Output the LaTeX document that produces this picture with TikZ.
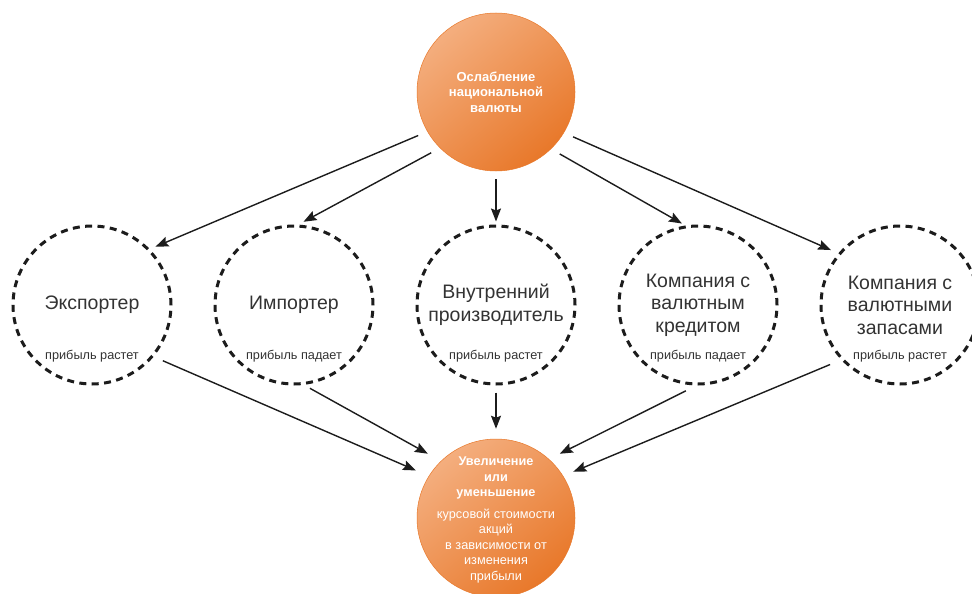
\documentclass[tikz,border=0pt]{standalone}
\usepackage{fontspec}
\setmainfont{Liberation Sans}
\usepackage{tikz}
\usetikzlibrary{arrows.meta,shapes}
\definecolor{orlight}{HTML}{F4AE7E}
\definecolor{ordark}{HTML}{E8782A}
\definecolor{inkgray}{HTML}{333333}
\definecolor{linegray}{HTML}{1C1C1C}
\tikzset{%
	hub/.style    = {circle, minimum size = 158pt, inner sep = 0pt, align = center,
		top color = orlight, bottom color = ordark, shading angle = 40,
		draw = ordark, line width = 0.5pt, text = white,
		font = \fontsize{13}{15.5}\selectfont\bfseries}, % orange circles
	hubtext/.style = {align = center, text = white,
		font = \fontsize{12.7}{15.5}\selectfont}, % text of the lower circle
	firm/.style   = {circle, minimum size = 158pt, inner sep = 0pt, align = center,
		draw = linegray, line width = 3pt, dash pattern = on 7pt off 5.4pt,
		text = inkgray, font = \fontsize{19.5}{22.5}\selectfont}, % dashed circles
	note/.style   = {text = inkgray, font = \fontsize{12.7}{14}\selectfont}, % profit
	conn/.style   = {draw = linegray, line width = 1.4pt,
		-{Stealth[length = 13pt, width = 10pt, inset = 2pt]}} % arrows
}

\begin{document}
\begin{tikzpicture}[x=1pt,y=-1pt]
                \clip (0,0) rectangle (972,594);
                \fill[white] (0,0) rectangle (972,594);

                \node[hub] (oslab) at (496,92) {Ослабление\\национальной\\валюты};

                \node[firm] (exp)   at (92,305)  {Экспортер};
                \node[firm] (imp)   at (294,305) {Импортер};
                \node[firm] (vnutr) at (496,305) {Внутренний\\производитель};
                \node[firm] (kred)  at (698,305) {Компания с\\валютным\\кредитом};
                \node[firm] (zapas) at (900,305) {Компания с\\валютными\\запасами};

                \node[note] (expnote)   at ([yshift=-51pt]exp.center)   {прибыль растет};
                \node[note] (impnote)   at ([yshift=-51pt]imp.center)   {прибыль падает};
                \node[note] (vnutrnote) at ([yshift=-51pt]vnutr.center) {прибыль растет};
                \node[note] (krednote)  at ([yshift=-51pt]kred.center)  {прибыль падает};
                \node[note] (zapasnote) at ([yshift=-51pt]zapas.center) {прибыль растет};

                \node[hub] (itog) at (496,518) {};
                \node[hubtext] (itogtext) at ([yshift=-2pt]itog.center)
                        {\textbf{Увеличение}\\\textbf{или}\\\textbf{уменьшение}\\[6pt]
                        курсовой стоимости\\акций\\в зависимости от\\изменения\\прибыли};

                \draw[conn,shorten <=10pt,shorten >=6pt] (oslab.210) -- (exp.44);
                \draw[conn,shorten <=10pt,shorten >=6pt] (oslab.225) -- (imp.87);
                \draw[conn,shorten <=8pt,shorten >=3pt]  (oslab.270) -- (vnutr.90);
                \draw[conn,shorten <=10pt,shorten >=4pt] (oslab.314) -- (kred.99);
                \draw[conn,shorten <=10pt,shorten >=8pt] (oslab.329) -- (zapas.140);

                \draw[conn,shorten <=10pt,shorten >=14pt] (exp.-40)    -- (itog.148);
                \draw[conn,shorten <=7pt,shorten >=15pt]  (imp.-83)    -- (itog.134);
                \draw[conn,shorten <=7pt,shorten >=10pt]  (vnutr.-90)  -- (itog.90);
                \draw[conn,shorten <=12pt,shorten >=12pt] (kred.-91)   -- (itog.48);
                \draw[conn,shorten <=12pt,shorten >=11pt] (zapas.-137) -- (itog.32);
            \end{tikzpicture}
\end{document}
